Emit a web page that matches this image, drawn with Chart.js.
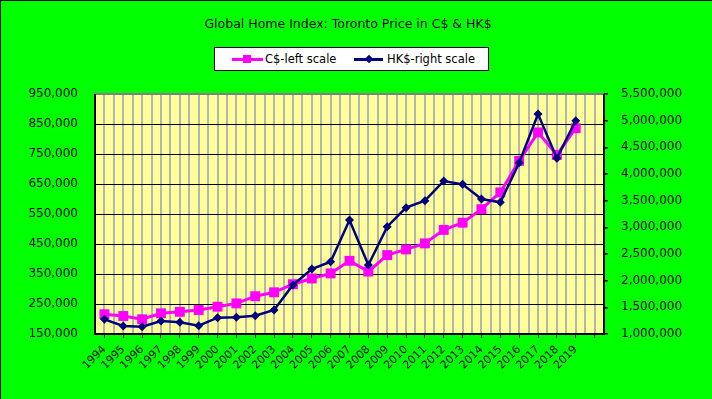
<!DOCTYPE html>
<html>
<head>
<meta charset="utf-8">
<script src="https://cdn.jsdelivr.net/npm/chart.js@4.4.1/dist/chart.umd.min.js"></script>
<style>
    body { margin: 0; background: #00ff00; }
    #marco { position: relative; width: 711px; height: 398px; border-top: 1px solid #000; border-left: 1px solid #000; background: #00ff00; font-family: 'DejaVu Sans', sans-serif; color: #000; }
    #grafico { position: absolute; left: 0; top: 0; }
    #titulo { position: absolute; left: 0; top: 15px; width: 694px; text-align: center; font-size: 12.5px; line-height: 16px; }
    #leyenda { position: absolute; left: 213px; top: 46px; width: 273px; height: 22px; background: #fff; border: 1px solid #000; font-size: 11.5px; }
    #leyenda span { position: absolute; }
    .texto { top: 0; line-height: 22px; white-space: nowrap; }
</style>
</head>
<body>
<div id="marco">
    <canvas id="grafico" width="711" height="398"></canvas>
    <div id="titulo">Global Home Index: Toronto Price in C$ &amp; HK$</div>
    <div id="leyenda">
        <span style="left:17px; top:10px; width:31px; height:3px; background:#ff00ff;"></span>
        <span style="left:28px; top:7px; width:8px; height:8px; background:#ff00ff;"></span>
        <span class="texto" style="left:50px;">C$-left scale</span>
        <span style="left:139px; top:10px; width:29px; height:3px; background:#000080;"></span>
        <span style="left:151px; top:8px; width:6px; height:6px; background:#000080; transform:rotate(45deg);"></span>
        <span class="texto" style="left:172px;">HK$-right scale</span>
    </div>
</div>
<script>
// datos
const anios = ['1994', '1995', '1996', '1997', '1998', '1999', '2000', '2001', '2002', '2003', '2004', '2005', '2006',
    '2007', '2008', '2009', '2010', '2011', '2012', '2013', '2014', '2015', '2016', '2017', '2018', '2019', ''];
const precioCAD = [216000, 210000, 199000, 219000, 224000, 230000, 241000, 252000, 276000, 289000, 316000, 335000, 352000,
    394000, 358000, 413000, 432000, 452000, 497000, 521000, 566000, 622000, 727000, 822000, 747000, 836000];
const precioHKD = [1275000, 1150000, 1137000, 1244000, 1219000, 1156000, 1306000, 1313000, 1344000, 1450000, 1919000, 2219000, 2356000,
    3137000, 2294000, 3012000, 3369000, 3500000, 3869000, 3806000, 3531000, 3469000, 4212000, 5125000, 4294000, 5000000];
const ejeIzq = [150000, 950000, 100000]; // min, max, paso
const ejeDer = [1000000, 5500000, 500000];

const formato = v => Number(v).toLocaleString('en-US');

// fondo verde + area amarilla y el marco del grafico
const fondo = {
    id: 'fondo',
    beforeDraw(chart) {
        const { ctx, chartArea: a } = chart;
        ctx.save();
        ctx.fillStyle = '#00ff00';
        ctx.fillRect(0, 0, chart.width, chart.height);
        ctx.fillStyle = '#ffff99';
        ctx.fillRect(a.left, a.top, a.right - a.left, a.bottom - a.top);
        ctx.restore();
    },
    beforeDatasetsDraw(chart) {
        const { ctx, chartArea: a } = chart;
        ctx.save();
        ctx.lineWidth = 2;
        ctx.strokeStyle = '#808080';
        ctx.beginPath(); ctx.moveTo(a.left, a.top); ctx.lineTo(a.right, a.top); ctx.stroke();
        ctx.strokeStyle = '#000';
        ctx.beginPath();
        ctx.moveTo(a.left, a.top); ctx.lineTo(a.left, a.bottom); ctx.lineTo(a.right, a.bottom); ctx.lineTo(a.right, a.top);
        ctx.stroke();
        ctx.restore();
    }
};

Chart.defaults.font.family = "'DejaVu Sans', sans-serif";
Chart.defaults.color = '#000';

new Chart(document.getElementById('grafico').getContext('2d'), {
    type: 'line',
    data: {
        labels: anios,
        datasets: [{
            label: 'C$-left scale',
            data: precioCAD,
            yAxisID: 'y',
            borderColor: '#ff00ff',
            backgroundColor: '#ff00ff',
            borderWidth: 3,
            pointStyle: 'rect',
            pointRadius: 7,
            pointBorderWidth: 0,
            tension: 0,
            order: 1
        }, {
            label: 'HK$-right scale',
            data: precioHKD,
            yAxisID: 'y2',
            borderColor: '#000080',
            backgroundColor: '#000080',
            borderWidth: 2.5,
            pointStyle: 'rectRot',
            pointRadius: 4.5,
            pointBorderWidth: 0,
            tension: 0,
            order: 0
        }]
    },
    options: {
        responsive: false,
        animation: false,
        layout: { padding: { top: 93, left: 0, right: 0, bottom: 0 } },
        plugins: {
            legend: { display: false },
            title: { display: false },
            tooltip: { enabled: false }
        },
        scales: {
            x: {
                type: 'category',
                offset: true,
                grid: { drawOnChartArea: false, drawTicks: true, tickLength: 4, color: '#000', lineWidth: 1 },
                border: { display: false },
                ticks: { autoSkip: false, minRotation: 45, maxRotation: 45, font: { size: 11 }, padding: 5 },
                afterFit: s => { s.height = 65; }
            },
            xg: {
                type: 'linear',
                position: 'bottom',
                min: 0,
                max: 54,
                z: -1,
                ticks: { display: false, stepSize: 1, maxTicksLimit: 100 },
                grid: { color: '#b4b4b4', lineWidth: 2, drawTicks: false },
                border: { display: false },
                afterFit: s => { s.height = 0; }
            },
            y: {
                position: 'left',
                min: ejeIzq[0],
                max: ejeIzq[1],
                ticks: { stepSize: ejeIzq[2], font: { size: 12 }, padding: 17, callback: formato },
                grid: { color: '#000', lineWidth: 1, drawTicks: false },
                border: { display: false },
                afterFit: s => { s.width = 94; }
            },
            y2: {
                position: 'right',
                min: ejeDer[0],
                max: ejeDer[1],
                ticks: { stepSize: ejeDer[2], font: { size: 12 }, padding: 13, callback: formato },
                grid: { drawOnChartArea: false, tickLength: 4, color: '#000', lineWidth: 1.5 },
                border: { display: false },
                afterFit: s => { s.width = 108; }
            }
        }
    },
    plugins: [fondo]
});
</script>
</body>
</html>
